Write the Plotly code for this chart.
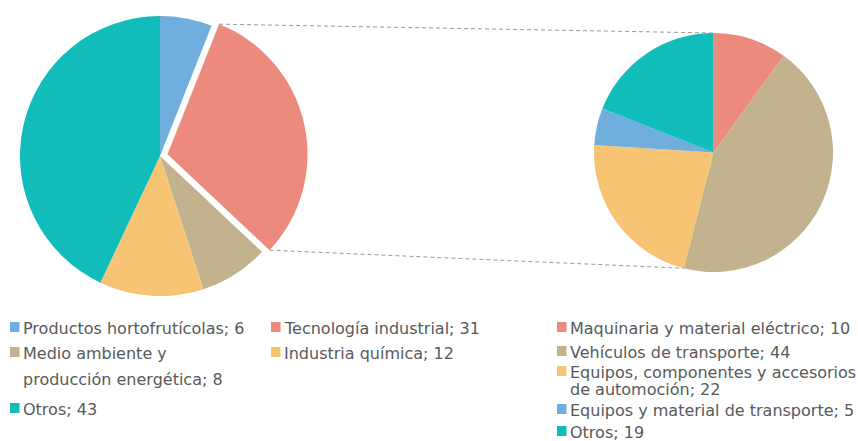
import math
import plotly.graph_objects as go

W, H = 858, 441

# ---- data ----
left_labels = ["Productos hortofrutícolas", "Tecnología industrial",
               "Medio ambiente y<br>producción energética", "Industria química", "Otros"]
left_values = [6, 31, 8, 12, 43]
left_colors = ["#6FAEDD", "#EC8A7E", "#C2B28D", "#F6C473", "#10BDBB"]
left_pull = [0, 0.055, 0, 0, 0]

right_labels = ["Maquinaria y material eléctrico", "Vehículos de transporte",
                "Equipos, componentes y accesorios<br>de automoción",
                "Equipos y material de transporte", "Otros"]
right_values = [10, 44, 22, 5, 19]
right_colors = ["#EC8A7E", "#C2B28D", "#F6C473", "#6FAEDD", "#10BDBB"]

# ---- layout (pixels) ----
L_CX, L_CY, L_R = 160, 156, 140
L_BOX = 2 * L_R * (1 + max(left_pull))
R_CX, R_CY, R_BOX = 713.5, 152.5, 239

def dom(cx, cy, box):
    return dict(x=[(cx - box / 2) / W, (cx + box / 2) / W],
                y=[1 - (cy + box / 2) / H, 1 - (cy - box / 2) / H])

fig = go.Figure()
fig.add_trace(go.Pie(labels=left_labels, values=left_values, sort=False,
                     direction="clockwise", rotation=0, pull=left_pull,
                     marker=dict(colors=left_colors, line=dict(width=0)),
                     textinfo="none", domain=dom(L_CX, L_CY, L_BOX),
                     showlegend=False, hoverinfo="label+value"))
fig.add_trace(go.Pie(labels=right_labels, values=right_values, sort=False,
                     direction="clockwise", rotation=0,
                     marker=dict(colors=right_colors, line=dict(width=0)),
                     textinfo="none", domain=dom(R_CX, R_CY, R_BOX),
                     showlegend=False, hoverinfo="label+value"))

# geometry of the pies as plotly computes them
l_r = (L_BOX / 2) / (1 + max(left_pull))
r_r = R_BOX / 2

def pt(cx, cy, r, frac):
    a = 2 * math.pi * frac
    return cx + r * math.sin(a), cy - r * math.cos(a)

tot = sum(left_values)
i = 1
f0 = sum(left_values[:i]) / tot
f1 = sum(left_values[:i + 1]) / tot
mid = (f0 + f1) / 2
sx, sy = pt(0, 0, l_r * left_pull[i], mid)
p1 = pt(L_CX + sx, L_CY + sy, l_r, f0)
p2 = pt(L_CX + sx, L_CY + sy, l_r, f1)
rtot = sum(right_values)
q1 = pt(R_CX, R_CY, r_r, 0)
q2 = pt(R_CX, R_CY, r_r, sum(right_values[:2]) / rtot)

shapes = []
for a, b in [(p1, q1), (p2, q2)]:
    shapes.append(dict(type="line", xref="paper", yref="paper",
                       x0=a[0] / W, y0=1 - a[1] / H, x1=b[0] / W, y1=1 - b[1] / H,
                       line=dict(color="#9A9A9A", width=1, dash="4px,3px")))

# ---- custom legend ----
FONT = "DejaVu Sans"
FS = 16
TXT = "#58595B"
annotations = []
left_pos = [(10, 327), (271, 327), (10, 352), (271, 352), (10, 408)]
right_pos = [(557, 327), (557, 351), (557, 371), (557, 409), (557, 431)]

def add_legend(labels, values, colors, pos, spacing):
    for lab, val, col, (x, y) in zip(labels, values, colors, pos):
        shapes.append(dict(type="rect", xref="paper", yref="paper",
                           x0=x / W, x1=(x + 9.5) / W,
                           y0=1 - (y + 5) / H, y1=1 - (y - 5) / H,
                           fillcolor=col, line=dict(width=0)))
        lines = f"{lab}; {val}".split("<br>")
        for k, ln in enumerate(lines):
            annotations.append(dict(text=ln, xref="paper", yref="paper",
                                    x=(x + 11) / W, y=1 - (y + 1 + k * spacing) / H,
                                    xanchor="left", yanchor="middle", showarrow=False,
                                    font=dict(family=FONT, size=FS, color=TXT)))

add_legend(left_labels, left_values, left_colors, left_pos, 26)
add_legend(right_labels, right_values, right_colors, right_pos, 17)

fig.update_layout(width=W, height=H, margin=dict(l=0, r=0, t=0, b=0),
                  paper_bgcolor="white", plot_bgcolor="white",
                  shapes=shapes, annotations=annotations, showlegend=False)
fig.write_html("out.html", config={"displayModeBar": False},
               post_script="document.body.style.margin='0px';")
